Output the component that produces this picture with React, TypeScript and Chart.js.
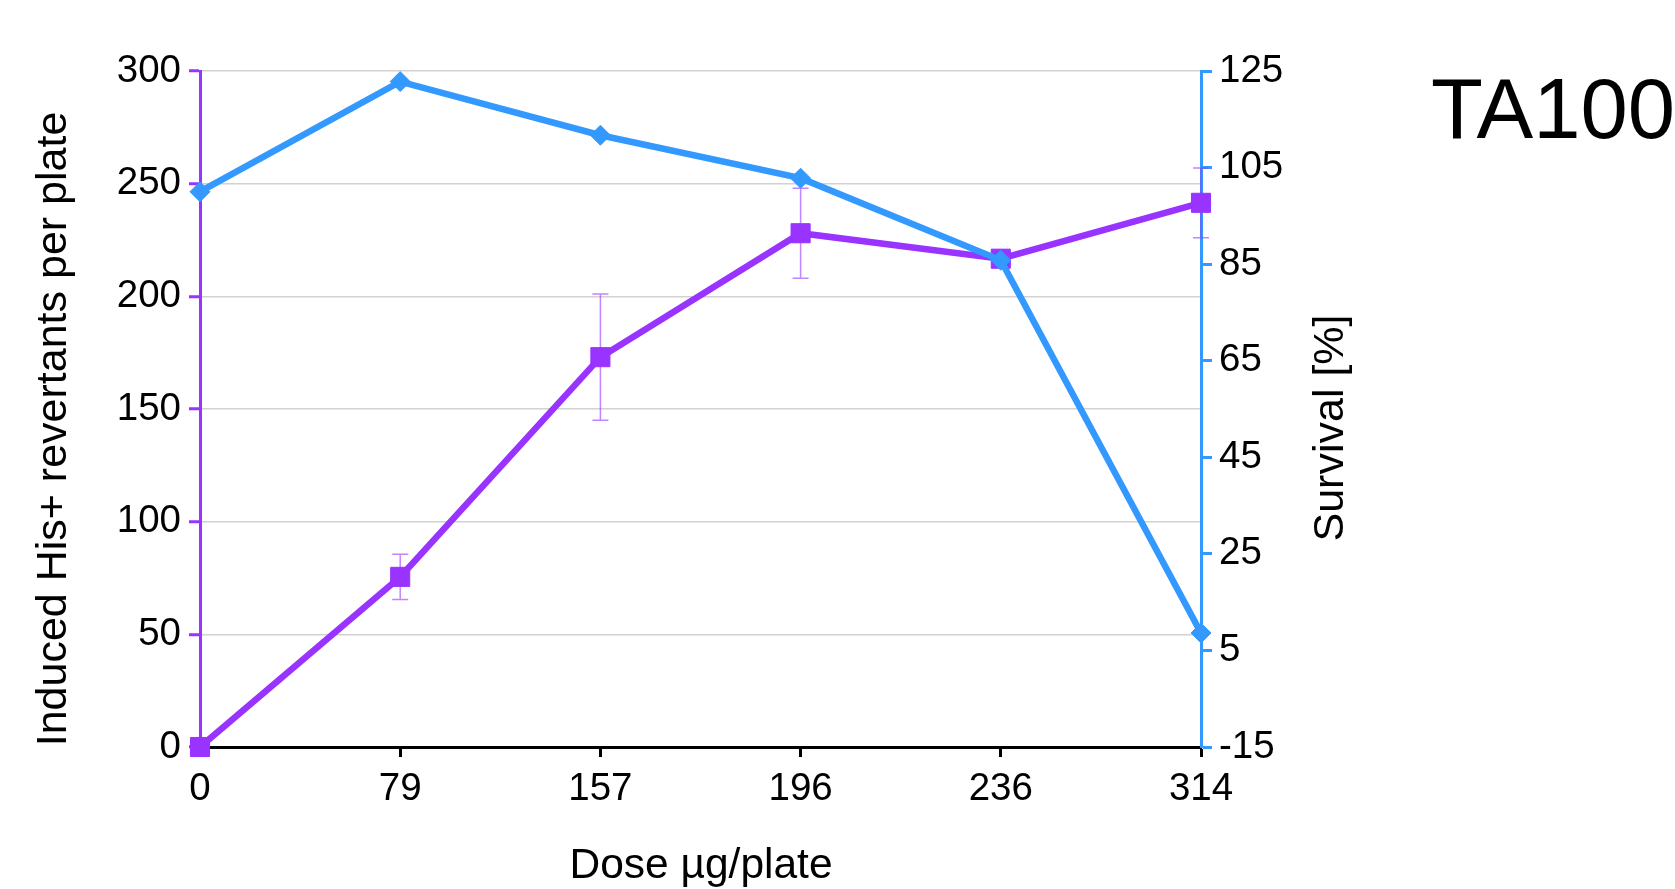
import React, { useEffect, useRef } from 'react';
import { Chart, registerables } from 'chart.js';

Chart.register(...registerables);

// ---- data ----
const doses = ['0', '79', '157', '196', '236', '314'];
const revertants = [0, 75.5, 173, 228, 216.7, 241.5];
const revertantErr = [0, 10, 28, 20, 3, 15.5];
const survival = [100, 122.8, 111.7, 102.8, 85.8, 8.6];
const leftTicks = [0, 50, 100, 150, 200, 250, 300];
const rightTicks = [-15, 5, 25, 45, 65, 85, 105, 125];

const leftTitle = 'Induced His+ revertants per plate';
const rightTitle = 'Survival [%]';
const xTitle = 'Dose µg/plate';
const panelTitle = 'TA100';

const PURPLE = '#9933ff';
const BLUE = '#3399ff';
const FONT = '"Liberation Sans", Arial, Helvetica, sans-serif';
const TICK_SIZE = 38.5;

const errorBarPlugin = {
  id: 'errorBars',
  beforeDatasetsDraw(chart: any) {
    const meta = chart.getDatasetMeta(0);
    const ys = chart.scales.y;
    const ctx = chart.ctx;
    ctx.save();
    ctx.strokeStyle = 'rgba(153,51,255,0.6)';
    ctx.lineWidth = 1.5;
    meta.data.forEach((pt: any, i: number) => {
      const e = revertantErr[i];
      if (!e) return;
      const v = revertants[i];
      const x = pt.x;
      const yTop = ys.getPixelForValue(v + e);
      const yBot = ys.getPixelForValue(v - e);
      ctx.beginPath();
      ctx.moveTo(x, yTop);
      ctx.lineTo(x, yBot);
      ctx.moveTo(x - 8, yTop);
      ctx.lineTo(x + 8, yTop);
      ctx.moveTo(x - 8, yBot);
      ctx.lineTo(x + 8, yBot);
      ctx.stroke();
    });
    ctx.restore();
  },
};

const textPlugin = {
  id: 'extraText',
  afterDraw(chart: any) {
    const ctx = chart.ctx;
    const area = chart.chartArea;
    ctx.save();
    ctx.fillStyle = '#000';
    ctx.textAlign = 'center';
    ctx.textBaseline = 'alphabetic';
    ctx.font = `43px ${FONT}`;
    ctx.save();
    ctx.translate(area.left - 134, 429);
    ctx.rotate(-Math.PI / 2);
    ctx.fillText(leftTitle, 0, 0);
    ctx.restore();
    ctx.save();
    ctx.translate(area.right + 142, 428);
    ctx.rotate(-Math.PI / 2);
    ctx.fillText(rightTitle, 0, 0);
    ctx.restore();
    ctx.font = `42.5px ${FONT}`;
    ctx.fillText(xTitle, (area.left + area.right) / 2 + 0.5, 878);
    ctx.textAlign = 'left';
    ctx.font = `85px ${FONT}`;
    ctx.fillText(panelTitle, 1431, 138);
    ctx.restore();
  },
};

export default function App() {
  const ref = useRef<HTMLCanvasElement | null>(null);
  useEffect(() => {
    if (!ref.current) return;
    Chart.defaults.font.family = FONT;
    const chart = new Chart(ref.current, {
      type: 'line',
      data: {
        labels: doses,
        datasets: [
          {
            label: 'Revertants',
            data: revertants,
            yAxisID: 'y',
            borderColor: PURPLE,
            backgroundColor: PURPLE,
            borderWidth: 6.5,
            pointStyle: 'rect',
            pointRadius: 13.5,
            pointBorderWidth: 1,
            pointBackgroundColor: PURPLE,
            pointBorderColor: PURPLE,
            tension: 0,
            clip: false,
            order: 1,
          },
          {
            label: 'Survival',
            data: survival,
            yAxisID: 'y1',
            borderColor: BLUE,
            backgroundColor: BLUE,
            borderWidth: 6.5,
            pointStyle: 'rectRot',
            pointRadius: 10,
            pointBorderWidth: 1,
            pointBackgroundColor: BLUE,
            pointBorderColor: BLUE,
            tension: 0,
            clip: false,
            order: 0,
          },
        ],
      },
      options: {
        responsive: false,
        animation: false,
        layout: { padding: { top: 71, left: 0, right: 0, bottom: 0 } },
        plugins: {
          legend: { display: false },
          tooltip: { enabled: false },
        },
        scales: {
          x: {
            type: 'category',
            offset: false,
            grid: {
              display: true,
              drawOnChartArea: false,
              drawTicks: true,
              tickLength: 10,
              tickColor: '#000',
              tickWidth: 3,
            },
            border: { display: true, color: '#000', width: 3 },
            ticks: {
              color: '#000',
              font: { family: FONT, size: TICK_SIZE },
              padding: 9.5,
              maxRotation: 0,
              autoSkip: false,
            },
            title: { display: false },
            afterFit: (s: any) => {
              s.height = 142;
            },
          },
          y: {
            type: 'linear',
            position: 'left',
            min: 0,
            max: 300,
            afterBuildTicks: (s: any) => {
              s.ticks = leftTicks.map((v) => ({ value: v }));
            },
            grid: {
              color: '#d2d2d2',
              lineWidth: 1.5,
              tickColor: PURPLE,
              tickWidth: 3,
              tickLength: 11,
            },
            border: { display: true, color: PURPLE, width: 3 },
            ticks: {
              color: '#000',
              font: { family: FONT, size: TICK_SIZE },
              padding: 8,
            },
            afterFit: (s: any) => {
              s.width = 200;
            },
          },
          y1: {
            type: 'linear',
            position: 'right',
            min: -15,
            max: 125,
            afterBuildTicks: (s: any) => {
              s.ticks = rightTicks.map((v) => ({ value: v }));
            },
            grid: {
              drawOnChartArea: false,
              color: BLUE,
              tickColor: BLUE,
              tickWidth: 3,
              tickLength: 11,
            },
            border: { display: true, color: BLUE, width: 3 },
            ticks: {
              color: '#000',
              font: { family: FONT, size: TICK_SIZE },
              padding: 7,
            },
            afterFit: (s: any) => {
              s.width = 474;
            },
          },
        },
      },
      plugins: [errorBarPlugin, textPlugin],
    } as any);
    return () => chart.destroy();
  }, []);

  return (
    <div style={{ position: 'absolute', left: 0, top: 0, width: 1675, height: 889, background: '#fff' }}>
      <canvas ref={ref} width={1675} height={889} style={{ display: 'block', width: 1675, height: 889 }} />
    </div>
  );
}
